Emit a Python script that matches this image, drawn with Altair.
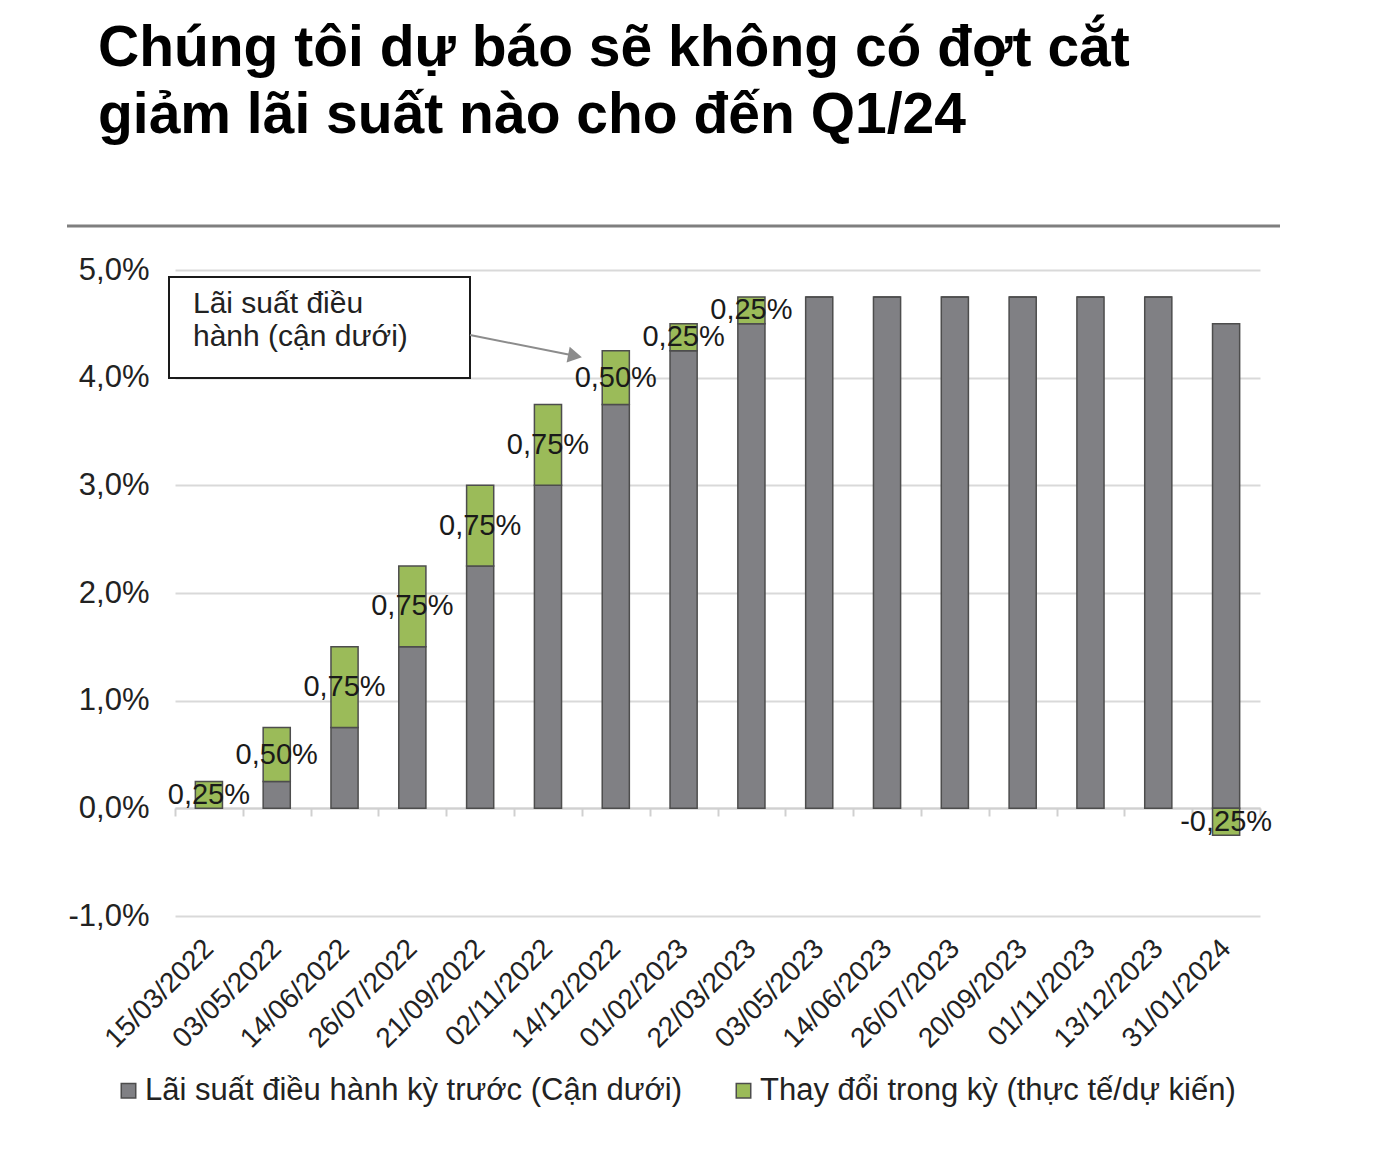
import altair as alt
import pandas as pd

dates = ["15/03/2022", "03/05/2022", "14/06/2022", "26/07/2022", "21/09/2022",
         "02/11/2022", "14/12/2022", "01/02/2023", "22/03/2023", "03/05/2023",
         "14/06/2023", "26/07/2023", "20/09/2023", "01/11/2023", "13/12/2023",
         "31/01/2024"]
prev_rate = [0, 0.25, 0.75, 1.5, 2.25, 3.0, 3.75, 4.25, 4.5, 4.75,
             4.75, 4.75, 4.75, 4.75, 4.75, 4.5]
change = [0.25, 0.5, 0.75, 0.75, 0.75, 0.75, 0.5, 0.25, 0.25, 0,
          0, 0, 0, 0, 0, -0.25]

s_prev = "Lãi suất điều hành kỳ trước (Cận dưới)"
s_chg = "Thay đổi trong kỳ (thực tế/dự kiến)"
title_text = "Chúng tôi dự báo sẽ không có đợt cắt\ngiảm lãi suất nào cho đến Q1/24"
note_text = "Lãi suất điều\nhành (cận dưới)"

FONT = "Liberation Sans"
W, H = 1085, 646

rows = []
for d, p, c in zip(dates, prev_rate, change):
    rows.append({"date": d, "series": s_prev, "value": p, "ord": 0})
    rows.append({"date": d, "series": s_chg, "value": c, "ord": 1})
df = pd.DataFrame(rows)

lab_rows = []
for d, p, c in zip(dates, prev_rate, change):
    if c != 0:
        mid = p + c / 2 if c > 0 else c / 2
        txt = ("-" if c < 0 else "") + f"{abs(c):.2f}".replace(".", ",") + "%"
        lab_rows.append({"date": d, "mid": mid, "label": txt})
labels_df = pd.DataFrame(lab_rows)

x_enc = alt.X("date:N", sort=dates, title=None,
              scale=alt.Scale(paddingInner=0, paddingOuter=0),
              axis=alt.Axis(offset=-108, tickBand="extent", tickSize=8,
                            tickColor="#d0d0d0", tickWidth=2,
                            domainColor="#d0d0d0", domainWidth=2,
                            labelAngle=-45, labelAlign="right",
                            labelBaseline="middle", labelPadding=128,
                            labelFont=FONT, labelFontSize=28,
                            labelColor="#222222", grid=False))

y_scale = alt.Scale(domain=[-1, 5], nice=False, zero=False)

bars = alt.Chart(df).mark_bar(
    width=alt.RelativeBandSize(0.4), stroke="#4d4d4d", strokeWidth=1.5
).encode(
    x=x_enc,
    y=alt.Y("value:Q", stack="zero", scale=y_scale, title=None,
            axis=alt.Axis(values=[-1, 0, 1, 2, 3, 4, 5],
                          labelExpr="replace(replace(format(datum.value, '.1f'), '.', ','), '\u2212', '-') + '%'",
                          domain=False, ticks=False, grid=True,
                          gridColor="#d9d9d9", gridWidth=2,
                          labelFont=FONT, labelFontSize=31,
                          labelColor="#222222", labelPadding=26)),
    color=alt.Color("series:N",
                    scale=alt.Scale(domain=[s_prev, s_chg],
                                    range=["#808084", "#9bbb59"]),
                    legend=alt.Legend(title=None, orient="none",
                                      legendX=-62, legendY=805,
                                      direction="horizontal",
                                      symbolType="square", symbolSize=210,
                                      symbolStrokeColor="#4d4d4d",
                                      symbolStrokeWidth=1.5,
                                      labelFont=FONT, labelFontSize=31,
                                      labelColor="#222222", labelOffset=1,
                                      labelLimit=0, columnPadding=45)),
    order=alt.Order("ord:Q"),
)

text_labels = alt.Chart(labels_df).mark_text(
    font=FONT, fontSize=29, color="#1a1a1a", baseline="middle", align="center"
).encode(
    x=alt.X("date:N", sort=dates),
    y=alt.Y("mid:Q", scale=y_scale),
    text="label:N",
)

title = alt.Chart(pd.DataFrame({"t": [title_text]})).mark_text(
    font=FONT, fontSize=57, fontWeight="bold", color="#000000",
    align="left", baseline="alphabetic", lineBreak="\n", lineHeight=67
).encode(x=alt.value(-77), y=alt.value(-204), text="t:N")

top_rule = alt.Chart(pd.DataFrame({"k": [0]})).mark_rule(
    color="#7f7f7f", strokeWidth=3
).encode(x=alt.value(-108), x2=alt.value(1105), y=alt.value(-44))

note_box = alt.Chart(pd.DataFrame({"k": [0]})).mark_rect(
    fill="white", stroke="#1a1a1a", strokeWidth=2
).encode(x=alt.value(-6), x2=alt.value(295), y=alt.value(7), y2=alt.value(108))

note_txt = alt.Chart(pd.DataFrame({"t": [note_text]})).mark_text(
    font=FONT, fontSize=30, color="#222222", align="left",
    baseline="alphabetic", lineBreak="\n", lineHeight=33
).encode(x=alt.value(18), y=alt.value(43), text="t:N")

arrow_line = alt.Chart(pd.DataFrame({"k": [0]})).mark_rule(
    color="#8c8c8c", strokeWidth=2
).encode(x=alt.value(295), x2=alt.value(396), y=alt.value(65), y2=alt.value(85))

arrow_head = alt.Chart(pd.DataFrame({"k": [0]})).mark_point(
    shape="triangle-right", filled=True, color="#8c8c8c", size=260,
    angle=11, opacity=1
).encode(x=alt.value(400), y=alt.value(86))

chart = alt.layer(
    bars, text_labels, title, top_rule, note_box, note_txt, arrow_line, arrow_head
).properties(
    width=W, height=H,
    autosize=alt.AutoSizeParams(type="none"),
    padding={"left": 167, "top": 262, "right": 120, "bottom": 245},
).configure(background="white").configure_view(stroke=None)

chart.save("out.html", embed_options={"renderer": "svg", "actions": False})
